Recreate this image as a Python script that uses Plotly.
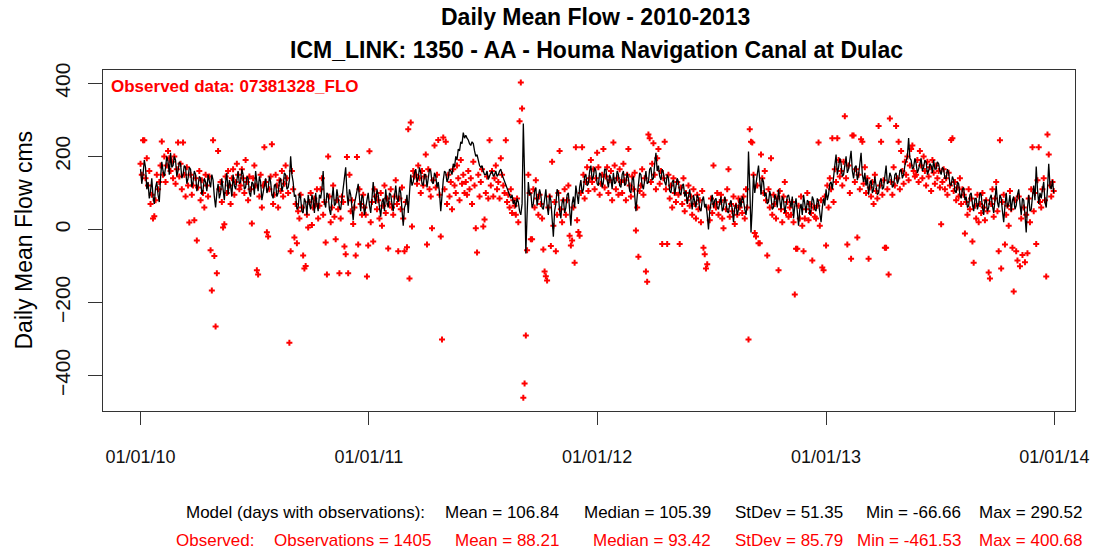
import pandas as pd
import plotly.graph_objects as go

# ---------------- data (estimated) ----------------
# Model daily mean flow (cms), sampled every 2 days from 2010-01-01
model_flow = [
    165, 125, 150, 190, 170, 110, 130, 85, 105, 140, 90, 70, 115, 130, 95, 75, 140, 185, 160, 145,
    170, 200, 185, 150, 210, 170, 175, 200, 190, 145, 160, 185, 180, 140, 150, 175, 170, 125, 140, 170,
    165, 115, 130, 160, 150, 105, 120, 145, 140, 95, 110, 140, 130, 105, 150, 125, 115, 150, 135, 90,
    60, 100, 125, 85, 100, 140, 115, 80, 130, 155, 95, 135, 120, 90, 150, 120, 110, 140, 160, 125,
    130, 165, 150, 110, 115, 145, 140, 100, 90, 130, 125, 95, 160, 130, 105, 145, 130, 80, 100, 125,
    140, 100, 110, 145, 130, 95, 85, 120, 125, 90, 100, 130, 140, 105, 120, 155, 150, 110, 115, 135,
    200, 150, 130, 90, 95, 55, 60, 100, 85, 50, 45, 85, 75, 40, 95, 70, 55, 95, 80, 45,
    100, 70, 50, 95, 85, 110, 160, 75, 60, 100, 95, 55, 40, 85, 115, 65, 70, 110, 90, 60,
    55, 80, 105, 130, 170, 100, 65, 110, 95, 60, 25, 70, 85, 105, 125, 75, 50, 95, 85, 40,
    60, 90, 100, 65, 45, 85, 130, 90, 70, 110, 95, 60, 35, 75, 85, 50, 110, 75, 60, 100,
    95, 70, 50, 90, 120, 85, 75, 115, 100, 55, 10, 60, 70, 95, 45, 100, 150, 120, 130, 155,
    165, 130, 140, 170, 155, 125, 120, 150, 150, 115, 135, 165, 160, 130, 125, 155, 145, 115, 130, 100,
    50, 110, 135, 160, 155, 130, 140, 165, 160, 150, 180, 170, 200, 190, 220, 215, 240, 235, 265, 250,
    258, 250, 245, 235, 230, 240, 235, 215, 200, 205, 190, 175, 170, 175, 160, 150, 150, 160, 137, 150,
    155, 160, 145, 150, 160, 145, 150, 160, 165, 150, 140, 130, 120, 110, 100, 90, 85, 95, 70, 80,
    60, 85, 75, 50, 40, 70, 290, 150, -66, 40, 130, 95, 100, 60, 70, 105, 115, 65, 85, 110,
    95, 60, 55, 90, 110, 65, 40, 95, 80, 30, -20, 50, 70, 110, 100, 50, 30, 75, 85, 45,
    60, 95, 100, 55, 10, 70, 90, 60, 120, 95, 70, 115, 135, 100, 110, 145, 150, 120, 125, 160,
    175, 135, 145, 170, 160, 125, 120, 155, 150, 115, 130, 165, 165, 135, 115, 150, 140, 110, 155, 125,
    130, 160, 150, 120, 115, 150, 160, 120, 125, 155, 140, 105, 100, 135, 145, 95, 50, 90, 120, 155,
    150, 120, 110, 145, 160, 125, 130, 165, 170, 135, 140, 180, 210, 160, 175, 145, 135, 165, 155, 130,
    120, 150, 140, 105, 100, 130, 135, 95, 115, 140, 130, 100, 95, 120, 125, 90, 105, 70, 90, 110,
    80, 55, 95, 70, 60, 95, 85, 55, 50, 80, 90, 60, 70, 40, 0, 50, 75, 95, 60, 80,
    85, 60, 55, 80, 90, 50, 60, 90, 75, 50, 45, 70, 80, 55, 20, 60, 70, 40, 55, 85,
    60, 90, 80, 55, 40, 70, 213, 120, -8, 60, 150, 100, 120, 150, 175, 130, 95, 140, 130, 90,
    100, 70, 75, 105, 90, 55, 60, 95, 85, 60, 110, 80, 55, 90, 80, 45, 65, 90, 95, 70,
    60, 90, 30, 65, 85, 50, 10, 55, 70, 40, 95, 70, 45, 80, 75, 40, 55, 90, 80, 55,
    50, 85, 75, 45, 20, 60, 85, 65, 110, 80, 95, 125, 130, 110, 150, 175, 205, 150, 170, 195,
    180, 145, 150, 185, 200, 155, 165, 190, 215, 160, 140, 170, 175, 135, 150, 180, 210, 150, 130, 155,
    120, 140, 95, 125, 135, 100, 110, 145, 125, 95, 100, 130, 140, 110, 115, 140, 175, 125, 130, 155,
    145, 115, 120, 150, 155, 125, 135, 160, 165, 140, 150, 175, 185, 200, 250, 195, 190, 165, 170, 195,
    180, 155, 165, 185, 195, 160, 170, 190, 185, 150, 160, 180, 175, 155, 190, 165, 165, 185, 180, 160,
    150, 170, 165, 140, 140, 165, 155, 125, 120, 145, 135, 105, 100, 130, 125, 95, 85, 110, 115, 80,
    90, 60, 65, 95, 100, 70, 50, 85, 85, 55, 70, 100, 95, 60, 40, 80, 80, 50, 60, 85,
    95, 65, 45, 80, 120, 75, 60, 95, 85, 50, 20, 65, 100, 60, 70, 95, 50, 80, 90, 55,
    65, 95, 110, 70, 40, 85, 80, 40, -8, 60, 95, 50, 55, 90, 120, 80, 172, 110, 70, 100,
    85, 110, 130, 75, 60, 110, 180, 120, 110, 135, 100,
]

# Observed daily mean flow (cms), sampled every 2 days from 2010-01-01
observed_flow = [
    180, 150, 244, 244, 140, 195, 120, 160, 70, 95, 30, 36, 80, 150, 110, 130, 175, 241, 150, 200,
    130, 175, 215, 195, 160, 185, 140, 200, 125, 165, 238, 145, 180, 110, 238, 150, 90, 170, 120, 19,
    150, 95, 120, 25, 140, -30, 115, 160, 80, 135, 100, 60, 150, 120, 90, 145, -57, -167, 244, -73,
    -266, -120, 215, 110, 130, 75, 5, 14, 145, 100, 160, 120, 70, 140, 165, 95, 130, 180, 150, 110,
    120, 165, 140, 100, 190, 130, 80, 145, 110, 16, 140, 175, 120, -112, -123, 90, 150, 60, 120, 225,
    130, -8, -19, 110, 145, 233, 70, 95, 150, 120, 60, 135, 105, 160, 90, 125, 175, 140, 100, -310,
    -60, 160, 110, -22, 70, -38, 50, 30, 95, 60, -71, -107, -100, 40, 5, 75, 100, 12, 60, 85,
    70, 110, 30, 65, 110, 140, 40, 75, -36, -123, 200, 90, 20, 60, 120, 35, -27, 80, 55, -120,
    30, 90, 75, -47, -68, 198, -120, 150, 50, 80, 15, 60, -71, 198, -41, 110, 70, 40, 95, 60,
    40, -129, -44, 214, 20, 75, -33, 110, 90, 55, 80, 30, 100, 10, 65, 120, 45, 85, -52, 70,
    110, 60, 40, 90, 135, 70, -60, 85, 55, 115, 30, -60, 75, -49, 274, -134, 293, 8, 160, 145,
    150, 125, 175, 140, 100, 160, 120, 145, 205, -41, 165, 110, 90, 3, 135, 230, 115, 150, 245, 95,
    -19, -301, 252, 110, 240, 70, 150, 90, 130, 55, 165, 120, 100, 175, 140, 80, 190, 125, 150, 100,
    130, 95, 160, 110, 140, 70, 185, 120, 3, -63, 150, 90, 130, 165, 8, 27, 100, 145, 85, 244,
    120, 160, 90, 140, 175, 110, 130, 85, 195, 150, 120, 100, 244, 75, 95, 60, 110, 45, 80, 65,
    40, 85, 20, 296, 402, 331, -461, -422, -290, -57, 150, 100, -27, -27, 110, 60, 135, 85, 40, 95,
    70, 30, -55, -115, -128, -140, 60, 90, -45, 185, 10, 75, -60, 40, 100, 215, 55, 20, 80, 110,
    40, 80, 120, -17, -44, -30, 60, -91, 225, 25, -7, -17, 100, 225, 150, 85, 130, 170, 105, 140,
    190, 130, 165, 110, 140, 210, 170, 95, 125, 150, 220, 115, 145, 170, 100, 135, 160, 80, 238, 175,
    110, 140, 95, 165, 130, 100, 180, 135, 80, 150, 220, 120, 90, 145, 110, 155, -3, 60, -75, 105,
    120, 165, 95, 140, -115, -143, 260, 250, 130, 180, 236, 150, 110, 195, 220, 125, 160, -40, 140, 240,
    110, -40, 150, 85, 120, 60, 140, 100, 75, 130, 95, -40, 115, 70, 140, 50, 100, 80, 120, 65,
    90, 40, 110, 70, 30, 95, 55, 80, 20, 105, -50, -68, -107, -95, 60, 25, 85, 45, 175, 70,
    60, 100, 40, 75, 95, 30, 3, 80, 55, 110, 165, 35, 70, 50, 90, 15, 65, 40, 85, 60,
    75, 45, 90, 30, 110, 60, -301, 274, 240, 238, 150, -10, -19, 120, -38, -38, 205, 140, 100, 160,
    80, -71, 110, 60, 195, 40, 95, 70, 30, 85, -112, 105, 55, 20, 90, 130, 45, 75, 35, 60,
    40, 75, 20, -178, -53, -53, 65, 30, 90, 10, -60, 30, 55, 100, 25, 70, 45, -85, 60, 35,
    30, 65, 238, 10, 80, -104, -112, 90, -44, 120, 60, 140, 110, 250, 75, 165, 130, 250, 190, 145,
    160, 120, 185, 310, 140, -41, 175, 100, -80, 257, 257, 130, 165, -22, 150, 110, 247, 240, 125, 170,
    100, 140, -80, 115, 90, 130, 70, 150, 105, 85, 283, 120, 240, 95, 135, -50, -50, 110, -123, 304,
    130, 95, 170, 120, 283, 140, 240, 110, 215, 160, 125, 185, 150, 200, 135, 175, 220, 230, 160, 145,
    150, 190, 130, 215, 175, 140, 200, 160, 120, 185, 145, 170, 105, 190, 155, 125, 175, 140, 160, 115,
    14, 130, 165, 110, 140, 95, 155, 120, 245, 250, 105, 130, 80, 115, 90, 140, 70, 110, 95, -11,
    75, 40, 110, 55, 85, -33, -91, 65, 30, 95, 20, 70, 45, 100, 60, 25, 80, 50, -118, -134,
    70, 110, 35, 85, 130, 50, -60, 244, -107, 75, 95, -41, 40, 65, 10, 105, 55, -50, -170, 80,
    -60, -85, 90, -101, 30, -70, 60, -90, 40, -65, 85, 20, 110, 225, 50, 100, -40, 135, 225, 75,
    60, 110, 140, 80, -129, 260, 205, 120, 90, 130, 105,
]

start_date = "2010-01-01"
model_step = "2D"
observed_step = "2D"

x_tick_dates = ["2010-01-01", "2011-01-01", "2012-01-01", "2013-01-01", "2014-01-01"]
y_tick_values = [-400, -200, 0, 200, 400]

title_lines = ["Daily Mean Flow - 2010-2013",
               "ICM_LINK: 1350 - AA - Houma Navigation Canal at Dulac"]
observed_label = "Observed data: 07381328_FLO"
y_title = "Daily Mean Flow cms"

stat_names = ["Mean", "Median", "StDev", "Min", "Max"]
model_stats = [106.84, 105.39, 51.35, -66.66, 290.52]
observed_stats = [88.21, 93.42, 85.79, -461.53, 400.68]
observation_count = 1405

# ---------------- figure ----------------
model_dates = pd.date_range(start_date, periods=len(model_flow), freq=model_step)
observed_dates = pd.date_range(start_date, periods=len(observed_flow), freq=observed_step)

FONT = "Liberation Sans, Arial, Helvetica, sans-serif"
W, H = 1093, 552
L, R, T, B = 103, 1075, 70, 411  # plot box in pixels


def px_x(p):
    return (p - L) / (R - L)


def px_y(p):
    return (B - p) / (B - T)


fig = go.Figure()
fig.add_trace(go.Scatter(
    x=observed_dates, y=observed_flow, mode="markers",
    marker=dict(symbol="cross", size=5, color="#ff0000", line=dict(width=0)),
    name="Observed"))
fig.add_trace(go.Scatter(
    x=model_dates, y=model_flow, mode="lines",
    line=dict(color="black", width=1.3), name="Model", hoverinfo="skip"))

fig.update_layout(
    width=W, height=H,
    margin=dict(l=L, r=W - R, t=T, b=H - B, pad=0, autoexpand=False),
    paper_bgcolor="white", plot_bgcolor="white",
    showlegend=False,
    font=dict(family=FONT, color="black"),
)
fig.update_xaxes(
    type="date", range=["2009-11-02", "2014-02-03"],
    tickvals=x_tick_dates, tickformat="%m/%d/%y",
    ticks="outside", ticklen=13, tickwidth=1, tickcolor="#333",
    showline=True, linecolor="#333", linewidth=1, mirror=True,
    showgrid=False, zeroline=False, automargin=False,
    tickfont=dict(size=18, family=FONT, color="#111"),
    ticklabelstandoff=16,
)
fig.update_yaxes(
    range=[-497, 436.5], tickvals=y_tick_values, tickangle=-90,
    ticks="outside", ticklen=14, tickwidth=1, tickcolor="#333",
    showline=True, linecolor="#333", linewidth=1, mirror=True,
    showgrid=False, zeroline=False, automargin=False,
    tickfont=dict(size=21, family=FONT, color="#111"),
    ticklabelstandoff=10,
)

ann = []
ann.append(dict(text="<b>%s</b>" % title_lines[0], x=px_x(595), y=px_y(17),
                xref="paper", yref="paper", showarrow=False,
                xanchor="center", yanchor="middle", font=dict(size=23, family=FONT)))
ann.append(dict(text="<b>%s</b>" % title_lines[1], x=px_x(596), y=px_y(50),
                xref="paper", yref="paper", showarrow=False,
                xanchor="center", yanchor="middle", font=dict(size=23, family=FONT)))
ann.append(dict(text="<b>%s</b>" % observed_label, x=px_x(109), y=px_y(87),
                xref="paper", yref="paper", showarrow=False,
                xanchor="left", yanchor="middle", font=dict(size=17, family=FONT, color="#ff0000")))
ann.append(dict(text=y_title, x=px_x(23), y=0.5, textangle=-90,
                xref="paper", yref="paper", showarrow=False,
                xanchor="center", yanchor="middle", font=dict(size=23, family=FONT)))

stat_right_px = [561, 713, 845, 963, 1085]
line1_y, line2_y = 512, 540
ann.append(dict(text="Model (days with observations):", x=px_x(427), y=px_y(line1_y),
                xref="paper", yref="paper", showarrow=False, xanchor="right", yanchor="middle",
                font=dict(size=17, family=FONT, color="black")))
ann.append(dict(text="Observed:", x=px_x(256), y=px_y(line2_y),
                xref="paper", yref="paper", showarrow=False, xanchor="right", yanchor="middle",
                font=dict(size=17, family=FONT, color="#ff0000")))
ann.append(dict(text="Observations = %d" % observation_count, x=px_x(433), y=px_y(line2_y),
                xref="paper", yref="paper", showarrow=False, xanchor="right", yanchor="middle",
                font=dict(size=17, family=FONT, color="#ff0000")))
for name, mv, ov, rp in zip(stat_names, model_stats, observed_stats, stat_right_px):
    ann.append(dict(text="%s = %.2f" % (name, mv), x=px_x(rp), y=px_y(line1_y),
                    xref="paper", yref="paper", showarrow=False, xanchor="right", yanchor="middle",
                    font=dict(size=17, family=FONT, color="black")))
    ann.append(dict(text="%s = %.2f" % (name, ov), x=px_x(rp), y=px_y(line2_y),
                    xref="paper", yref="paper", showarrow=False, xanchor="right", yanchor="middle",
                    font=dict(size=17, family=FONT, color="#ff0000")))
fig.update_layout(annotations=ann)

fig.write_html(
    "out.html",
    config={"displayModeBar": False},
    post_script="document.body.style.margin='0';document.body.style.padding='0';"
                "document.body.style.overflow='hidden';",
)
